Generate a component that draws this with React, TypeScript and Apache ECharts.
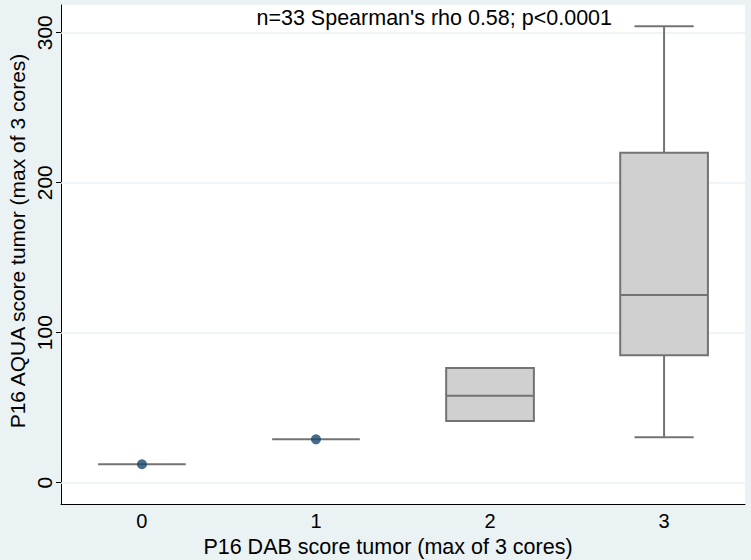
import React, { useEffect, useRef } from 'react';
import * as echarts from 'echarts';

// Categories (P16 DAB score) and box-plot statistics (P16 AQUA score)
const categories = [0, 1, 2, 3];
const whiskerLow = [12.3, 28.9, 41.1, 30.3];
const quartile1 = [12.3, 28.9, 41.1, 84.9];
const medians = [12.3, 28.9, 58.0, 125.1];
const quartile3 = [12.3, 28.9, 76.5, 220.0];
const whiskerHigh = [12.3, 28.9, 76.5, 304.3];
// single observations drawn as markers
const pointCats = [0, 1];
const pointValues = [12.3, 28.9];

const yTicks = [0, 100, 200, 300];
const xTicks = [0, 1, 2, 3];

const annotation = "n=33 Spearman's rho 0.58; p<0.0001";
const xTitle = 'P16 DAB score tumor (max of 3 cores)';
const yTitle = 'P16 AQUA score tumor (max of 3 cores)';

const FONT = '"Liberation Sans", Arial, sans-serif';
const STROKE = '#737373';

export default function App() {
  const ref = useRef<HTMLDivElement>(null);
  useEffect(() => {
    const chart = echarts.init(ref.current!, null, { renderer: 'svg' });
    const boxData = categories.map((c, i) => [
      c,
      whiskerLow[i],
      quartile1[i],
      medians[i],
      quartile3[i],
      whiskerHigh[i],
    ]);
    const points = pointCats.map((c, i) => [c, pointValues[i]]);

    chart.setOption({
      animation: false,
      backgroundColor: '#eaf2f3',
      textStyle: { fontFamily: FONT },
      grid: {
        left: 61,
        right: 6,
        top: 5,
        bottom: 56,
        show: true,
        backgroundColor: '#ffffff',
        borderWidth: 0,
      },
      xAxis: {
        type: 'value',
        min: -0.465,
        max: 3.465,
        axisLine: { show: true, onZero: false, lineStyle: { color: '#000', width: 1 } },
        axisTick: { show: false },
        splitLine: { show: false },
        axisLabel: {
          customValues: xTicks,
          fontSize: 20,
          color: '#000',
          margin: 7,
          fontFamily: FONT,
          formatter: (v: number) => String(Math.round(v)),
        },
      },
      yAxis: {
        type: 'value',
        min: -14.2,
        max: 318.5,
        axisLine: { show: true, onZero: false, lineStyle: { color: '#000', width: 1 } },
        axisTick: {
          show: true,
          customValues: yTicks,
          length: 5,
          lineStyle: { color: '#000', width: 1 },
        },
        splitLine: { show: false },
        axisLabel: {
          customValues: yTicks,
          rotate: 90,
          fontSize: 21,
          color: '#000',
          margin: 6,
          fontFamily: FONT,
        },
      },
      graphic: [
        {
          type: 'text',
          right: 139,
          top: 7,
          style: {
            text: annotation,
            fontSize: 21.5,
            fill: '#000',
            fontFamily: FONT,
          },
        },
        {
          type: 'text',
          x: 388,
          y: 547,
          style: {
            text: xTitle,
            fontSize: 21.5,
            fill: '#000',
            fontFamily: FONT,
            align: 'center',
            verticalAlign: 'middle',
          },
        },
        {
          type: 'text',
          x: 17,
          y: 241,
          rotation: Math.PI / 2,
          style: {
            text: yTitle,
            fontSize: 21,
            fill: '#000',
            fontFamily: FONT,
            align: 'center',
            verticalAlign: 'middle',
          },
        },
      ],
      series: [
        {
          type: 'custom',
          z: 2,
          data: boxData,
          encode: { x: 0, y: [1, 2, 3, 4, 5] },
          renderItem: (_params: any, api: any) => {
            const c = api.value(0);
            const lo = api.value(1);
            const a = api.value(2);
            const m = api.value(3);
            const b = api.value(4);
            const hi = api.value(5);
            const hw = 0.252;
            const cw = 0.17;
            const pl = api.coord([c - hw, a]);
            const pr = api.coord([c + hw, b]);
            const pm = api.coord([c, m]);
            const plo = api.coord([c, lo]);
            const phi = api.coord([c, hi]);
            const cl = api.coord([c - cw, lo]);
            const cr = api.coord([c + cw, lo]);
            const ls = { stroke: STROKE, lineWidth: 2 };
            const children: any[] = [];
            if (hi > b) {
              children.push({ type: 'line', shape: { x1: pm[0], y1: pr[1], x2: pm[0], y2: phi[1] }, style: ls });
              children.push({ type: 'line', shape: { x1: cl[0], y1: phi[1], x2: cr[0], y2: phi[1] }, style: ls });
            }
            if (lo < a) {
              children.push({ type: 'line', shape: { x1: pm[0], y1: pl[1], x2: pm[0], y2: plo[1] }, style: ls });
              children.push({ type: 'line', shape: { x1: cl[0], y1: plo[1], x2: cr[0], y2: plo[1] }, style: ls });
            }
            if (b > a) {
              children.push({
                type: 'rect',
                shape: { x: pl[0], y: pr[1], width: pr[0] - pl[0], height: pl[1] - pr[1] },
                style: { fill: '#d0d0d0', stroke: STROKE, lineWidth: 2 },
              });
            }
            children.push({ type: 'line', shape: { x1: pl[0], y1: pm[1], x2: pr[0], y2: pm[1] }, style: ls });
            return { type: 'group', children };
          },
        },
        {
          type: 'scatter',
          z: 3,
          data: points,
          symbol: 'circle',
          symbolSize: 10,
          itemStyle: { color: '#1a476f' },
          markLine: {
            silent: true,
            z: 1,
            symbol: ['none', 'none'],
            label: { show: false },
            lineStyle: { color: '#eaf2f3', width: 1.5, type: 'solid' },
            data: yTicks.map((v) => ({ yAxis: v })),
          },
        },
      ],
    });
    return () => chart.dispose();
  }, []);
  return (
    <div
      ref={ref}
      style={{ position: 'absolute', left: 0, top: 0, width: 751, height: 560 }}
    />
  );
}
